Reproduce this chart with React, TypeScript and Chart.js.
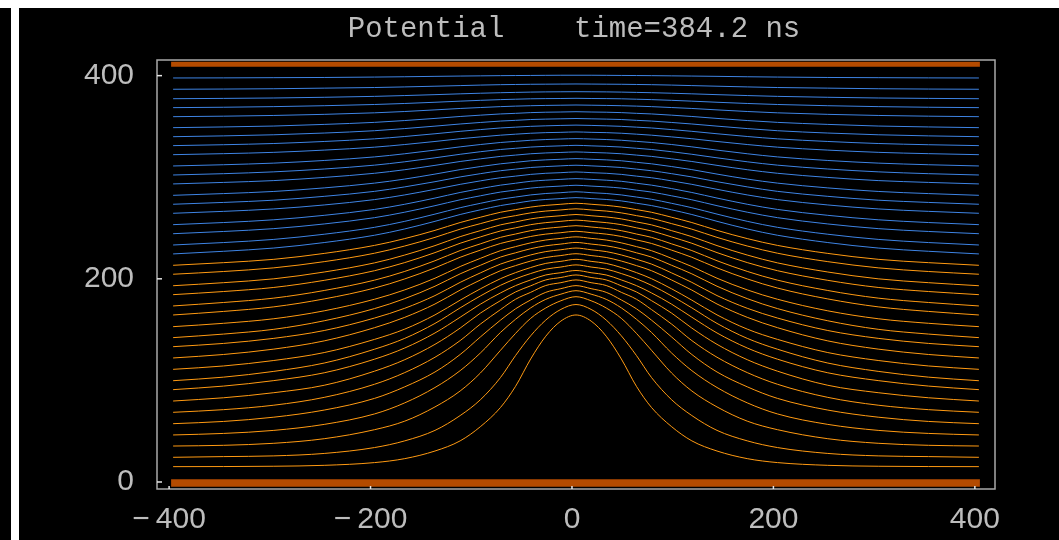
import React, { useEffect, useRef } from "react";
import { Chart, registerables } from "chart.js";

Chart.register(...registerables);

// sample positions along x (same for every contour)
const xs = [-396, -346, -296, -246, -196, -166, -136, -111, -91, -71, -56, -41, -26, -11, 4, 19, 34, 49, 64, 79, 99, 119, 144, 174, 204, 254, 304, 354, 404];

// upper (blue) contour lines, top to bottom
const blueLines: number[][] = [
  [397.7, 397.8, 398.0, 398.2, 398.6, 398.9, 399.3, 399.6, 399.8, 400.0, 400.1, 400.2, 400.3, 400.4, 400.4, 400.4, 400.3, 400.2, 400.1, 400.0, 399.8, 399.6, 399.3, 398.9, 398.6, 398.2, 398.0, 397.8, 397.7],
  [386.6, 386.8, 387.1, 387.7, 388.3, 388.9, 389.6, 390.2, 390.7, 391.1, 391.3, 391.5, 391.6, 391.7, 391.8, 391.7, 391.6, 391.5, 391.3, 391.1, 390.7, 390.2, 389.6, 388.9, 388.3, 387.7, 387.1, 386.8, 386.6],
  [377.3, 377.6, 378.0, 378.7, 379.6, 380.4, 381.3, 382.1, 382.7, 383.2, 383.5, 383.8, 384.0, 384.1, 384.2, 384.1, 384.0, 383.8, 383.5, 383.2, 382.7, 382.1, 381.3, 380.4, 379.6, 378.7, 378.0, 377.6, 377.3],
  [368.5, 368.9, 369.5, 370.4, 371.6, 372.6, 373.8, 374.9, 375.7, 376.4, 376.8, 377.2, 377.4, 377.5, 377.7, 377.5, 377.4, 377.2, 376.8, 376.4, 375.7, 374.9, 373.8, 372.6, 371.6, 370.4, 369.5, 368.9, 368.5],
  [359.6, 360.1, 360.8, 361.9, 363.4, 364.7, 366.3, 367.7, 368.6, 369.5, 370.0, 370.4, 370.7, 370.9, 371.1, 370.9, 370.7, 370.4, 370.0, 369.5, 368.6, 367.7, 366.3, 364.7, 363.4, 361.9, 360.8, 360.1, 359.6],
  [348.8, 349.5, 350.4, 352.0, 354.0, 355.8, 357.9, 359.8, 361.1, 362.3, 362.9, 363.6, 364.0, 364.2, 364.5, 364.2, 364.0, 363.6, 362.9, 362.3, 361.1, 359.8, 357.9, 355.8, 354.0, 352.0, 350.4, 349.5, 348.8],
  [339.9, 340.7, 341.8, 343.5, 345.8, 347.9, 350.3, 352.4, 353.9, 355.3, 356.0, 356.8, 357.2, 357.5, 357.8, 357.5, 357.2, 356.8, 356.0, 355.3, 353.9, 352.4, 350.3, 347.9, 345.8, 343.5, 341.8, 340.7, 339.9],
  [331.1, 332.0, 333.2, 335.2, 337.8, 340.1, 342.8, 345.2, 346.9, 348.5, 349.3, 350.1, 350.6, 351.0, 351.3, 351.0, 350.6, 350.1, 349.3, 348.5, 346.9, 345.2, 342.8, 340.1, 337.8, 335.2, 333.2, 332.0, 331.1],
  [322.2, 323.2, 324.5, 326.7, 329.6, 332.2, 335.2, 337.9, 339.7, 341.4, 342.4, 343.3, 343.9, 344.2, 344.6, 344.2, 343.9, 343.3, 342.4, 341.4, 339.7, 337.9, 335.2, 332.2, 329.6, 326.7, 324.5, 323.2, 322.2],
  [311.1, 312.3, 313.9, 316.5, 320.0, 323.1, 326.7, 329.9, 332.2, 334.2, 335.3, 336.4, 337.1, 337.6, 338.0, 337.6, 337.1, 336.4, 335.3, 334.2, 332.2, 329.9, 326.7, 323.1, 320.0, 316.5, 313.9, 312.3, 311.1],
  [302.2, 303.5, 305.3, 308.1, 311.9, 315.2, 319.1, 322.6, 325.1, 327.3, 328.5, 329.7, 330.4, 330.9, 331.4, 330.9, 330.4, 329.7, 328.5, 327.3, 325.1, 322.6, 319.1, 315.2, 311.9, 308.1, 305.3, 303.5, 302.2],
  [293.4, 294.9, 296.7, 299.8, 303.9, 307.4, 311.7, 315.5, 318.1, 320.5, 321.8, 323.1, 323.9, 324.4, 324.9, 324.4, 323.9, 323.1, 321.8, 320.5, 318.1, 315.5, 311.7, 307.4, 303.9, 299.8, 296.7, 294.9, 293.4],
  [282.2, 283.9, 286.0, 289.5, 294.2, 298.2, 303.1, 307.5, 310.5, 313.2, 314.7, 316.2, 317.1, 317.7, 318.3, 317.7, 317.1, 316.2, 314.7, 313.2, 310.5, 307.5, 303.1, 298.2, 294.2, 289.5, 286.0, 283.9, 282.2],
  [273.4, 275.2, 277.4, 281.2, 286.1, 290.5, 295.6, 300.3, 303.5, 306.4, 308.0, 309.6, 310.5, 311.2, 311.8, 311.2, 310.5, 309.6, 308.0, 306.4, 303.5, 300.3, 295.6, 290.5, 286.1, 281.2, 277.4, 275.2, 273.4],
  [264.5, 266.4, 268.8, 272.7, 278.0, 282.6, 288.1, 293.0, 296.4, 299.5, 301.1, 302.8, 303.9, 304.5, 305.2, 304.5, 303.9, 302.8, 301.1, 299.5, 296.4, 293.0, 288.1, 282.6, 278.0, 272.7, 268.8, 266.4, 264.5],
  [253.3, 255.4, 258.1, 262.5, 268.3, 273.4, 279.5, 285.0, 288.8, 292.2, 294.1, 296.0, 297.1, 297.9, 298.6, 297.9, 297.1, 296.0, 294.1, 292.2, 288.8, 285.0, 279.5, 273.4, 268.3, 262.5, 258.1, 255.4, 253.3],
  [244.4, 246.6, 249.4, 254.0, 260.2, 265.6, 272.0, 277.8, 281.7, 285.4, 287.3, 289.3, 290.5, 291.3, 292.1, 291.3, 290.5, 289.3, 287.3, 285.4, 281.7, 277.8, 272.0, 265.6, 260.2, 254.0, 249.4, 246.6, 244.4],
  [233.3, 235.7, 238.8, 243.9, 250.7, 256.6, 263.7, 270.0, 274.3, 278.3, 280.5, 282.6, 284.0, 284.8, 285.7, 284.8, 284.0, 282.6, 280.5, 278.3, 274.3, 270.0, 263.7, 256.6, 250.7, 243.9, 238.8, 235.7, 233.3],
  [224.5, 227.1, 230.3, 235.7, 242.9, 249.1, 256.6, 263.3, 267.9, 272.1, 274.4, 276.7, 278.1, 279.0, 279.9, 279.0, 278.1, 276.7, 274.4, 272.1, 267.9, 263.3, 256.6, 249.1, 242.9, 235.7, 230.3, 227.1, 224.5],
];

// lower (orange) contour lines, top to bottom
const orangeLines: number[][] = [
  [213.3, 215.9, 219.2, 225.0, 232.9, 239.6, 247.7, 255.4, 260.6, 265.5, 268.1, 270.6, 272.3, 273.4, 274.4, 273.4, 272.3, 270.6, 268.1, 265.5, 260.6, 255.4, 247.7, 239.6, 232.9, 225.0, 219.2, 215.9, 213.3],
  [204.5, 207.2, 210.8, 216.9, 225.2, 232.3, 240.8, 248.9, 254.3, 259.5, 262.2, 264.9, 266.7, 267.8, 268.9, 267.8, 266.7, 264.9, 262.2, 259.5, 254.3, 248.9, 240.8, 232.3, 225.2, 216.9, 210.8, 207.2, 204.5],
  [193.2, 196.2, 200.0, 206.7, 215.7, 223.4, 232.7, 241.5, 247.4, 253.1, 256.0, 259.0, 260.9, 262.1, 263.3, 262.1, 260.9, 259.0, 256.0, 253.1, 247.4, 241.5, 232.7, 223.4, 215.7, 206.7, 200.0, 196.2, 193.2],
  [184.4, 187.5, 191.5, 198.5, 208.0, 216.0, 225.8, 235.0, 241.2, 247.1, 250.2, 253.3, 255.3, 256.6, 257.8, 256.6, 255.3, 253.3, 250.2, 247.1, 241.2, 235.0, 225.8, 216.0, 208.0, 198.5, 191.5, 187.5, 184.4],
  [173.3, 176.7, 181.0, 188.5, 198.7, 207.3, 217.8, 227.8, 234.4, 240.8, 244.1, 247.4, 249.6, 251.0, 252.3, 251.0, 249.6, 247.4, 244.1, 240.8, 234.4, 227.8, 217.8, 207.3, 198.7, 188.5, 181.0, 176.7, 173.3],
  [164.4, 167.9, 172.4, 180.2, 190.9, 199.9, 210.8, 221.2, 228.2, 234.8, 238.3, 241.7, 244.0, 245.4, 246.8, 245.4, 244.0, 241.7, 238.3, 234.8, 228.2, 221.2, 210.8, 199.9, 190.9, 180.2, 172.4, 167.9, 164.4],
  [152.9, 156.2, 160.7, 168.5, 179.9, 189.1, 200.6, 212.1, 220.1, 227.7, 231.7, 235.4, 238.2, 239.8, 241.3, 239.8, 238.2, 235.4, 231.7, 227.7, 220.1, 212.1, 200.6, 189.1, 179.9, 168.5, 160.7, 156.2, 152.9],
  [142.1, 145.6, 150.3, 158.7, 170.7, 180.5, 192.7, 204.9, 213.3, 221.4, 225.6, 229.6, 232.5, 234.2, 235.8, 234.2, 232.5, 229.6, 225.6, 221.4, 213.3, 204.9, 192.7, 180.5, 170.7, 158.7, 150.3, 145.6, 142.1],
  [133.2, 136.4, 141.4, 149.1, 161.4, 171.0, 183.5, 196.5, 205.8, 214.5, 219.2, 223.5, 226.8, 228.6, 230.3, 228.6, 226.8, 223.5, 219.2, 214.5, 205.8, 196.5, 183.5, 171.0, 161.4, 149.1, 141.4, 136.4, 133.2],
  [122.1, 125.5, 130.8, 138.9, 151.9, 162.1, 175.2, 188.9, 198.8, 208.0, 213.0, 217.5, 221.0, 222.9, 224.7, 222.9, 221.0, 217.5, 213.0, 208.0, 198.8, 188.9, 175.2, 162.1, 151.9, 138.9, 130.8, 125.5, 122.1],
  [110.9, 114.2, 119.6, 127.4, 140.4, 150.5, 164.5, 179.0, 190.1, 200.1, 206.1, 211.1, 215.2, 217.2, 219.2, 217.2, 215.2, 211.1, 206.1, 200.1, 190.1, 179.0, 164.5, 150.5, 140.4, 127.4, 119.6, 114.2, 110.9],
  [99.7, 103.2, 108.9, 117.1, 130.7, 141.4, 156.1, 171.4, 183.1, 193.6, 200.0, 205.2, 209.5, 211.6, 213.7, 211.6, 209.5, 205.2, 200.0, 193.6, 183.1, 171.4, 156.1, 141.4, 130.7, 117.1, 108.9, 103.2, 99.7],
  [90.9, 94.4, 99.8, 107.5, 120.9, 131.9, 146.7, 162.2, 175.0, 186.1, 193.3, 198.9, 203.8, 206.0, 208.2, 206.0, 203.8, 198.9, 193.3, 186.1, 175.0, 162.2, 146.7, 131.9, 120.9, 107.5, 99.8, 94.4, 90.9],
  [79.7, 82.9, 87.9, 95.2, 109.1, 120.4, 135.5, 151.5, 166.2, 178.5, 187.1, 193.1, 198.9, 201.3, 203.8, 201.3, 198.9, 193.1, 187.1, 178.5, 166.2, 151.5, 135.5, 120.4, 109.1, 95.2, 87.9, 82.9, 79.7],
  [68.6, 71.2, 75.6, 83.3, 96.2, 107.7, 122.8, 139.2, 155.4, 169.7, 179.9, 186.7, 193.4, 196.2, 198.9, 196.2, 193.4, 186.7, 179.9, 169.7, 155.4, 139.2, 122.8, 107.7, 96.2, 83.3, 75.6, 71.2, 68.6],
  [57.4, 59.6, 63.8, 70.8, 82.3, 93.7, 108.3, 125.5, 142.7, 159.3, 170.5, 179.2, 186.7, 190.3, 193.3, 190.3, 186.7, 179.2, 170.5, 159.3, 142.7, 125.5, 108.3, 93.7, 82.3, 70.8, 63.8, 59.6, 57.4],
  [46.3, 47.8, 50.8, 56.7, 67.0, 77.9, 93.0, 109.6, 126.9, 147.2, 160.2, 171.4, 179.8, 184.9, 188.3, 184.9, 179.8, 171.4, 160.2, 147.2, 126.9, 109.6, 93.0, 77.9, 67.0, 56.7, 50.8, 47.8, 46.3],
  [35.4, 36.1, 38.1, 42.6, 51.5, 59.9, 73.9, 89.6, 107.2, 129.6, 146.3, 161.1, 171.3, 178.4, 182.4, 178.4, 171.3, 161.1, 146.3, 129.6, 107.2, 89.6, 73.9, 59.9, 51.5, 42.6, 38.1, 36.1, 35.4],
  [24.3, 25.0, 25.7, 28.1, 33.9, 40.5, 50.8, 65.4, 80.9, 102.8, 124.5, 143.9, 159.4, 169.9, 174.7, 169.9, 159.4, 143.9, 124.5, 102.8, 80.9, 65.4, 50.8, 40.5, 33.9, 28.1, 25.7, 25.0, 24.3],
  [15.1, 15.2, 15.5, 16.4, 19.1, 23.0, 30.5, 40.5, 54.4, 73.3, 94.2, 121.1, 143.5, 158.4, 164.4, 158.4, 143.5, 121.1, 94.2, 73.3, 54.4, 40.5, 30.5, 23.0, 19.1, 16.4, 15.5, 15.2, 15.1],
];

// electrodes (thick bands)
const electrodeX = [-398, 405];
const bottomElectrodeY = [-1, -1];
const topElectrodeY = [411.3, 411.3];

const xTickValues = [-400, -200, 0, 200, 400];
const xTickLabels = ["\u2212\u2009400", "\u2212\u2009200", "0", "200", "400"];
const yTickValues = [0, 200, 400];
const yTickLabels = ["0", "200", "400"];
const titleText = "Potential    time=384.2 ns";

const BLUE = "rgb(62,132,228)";
const ORANGE = "rgb(255,154,18)";
const ELECTRODE = "#b44b00";
const TEXT = "#bdbdbd";

const pagePlugin = {
  id: "pageDecor",
  beforeDraw(chart: any) {
    const ctx = chart.ctx;
    const w = chart.width;
    const h = chart.height;
    ctx.save();
    ctx.fillStyle = "#ffffff";
    ctx.fillRect(0, 0, w, h);
    ctx.fillStyle = "#000000";
    ctx.fillRect(0, 8, w, h - 8);
    ctx.fillStyle = "#ffffff";
    ctx.fillRect(11, 8, 8, h - 8);
    ctx.restore();
  },
  afterDraw(chart: any) {
    const ctx = chart.ctx;
    const { left, right, top, bottom } = chart.chartArea;
    const xs_ = chart.scales.x;
    const ys_ = chart.scales.y;
    ctx.save();
    // frame
    ctx.strokeStyle = "#a9a9a9";
    ctx.lineWidth = 1.5;
    ctx.strokeRect(left, top, right - left, bottom - top);
    // inward ticks
    ctx.strokeStyle = "#e6e6e6";
    ctx.lineWidth = 1.5;
    yTickValues.forEach((v) => {
      const py = ys_.getPixelForValue(v);
      ctx.beginPath();
      ctx.moveTo(left, py);
      ctx.lineTo(left + 5, py);
      ctx.stroke();
    });
    xTickValues.forEach((v) => {
      const px = xs_.getPixelForValue(v);
      ctx.beginPath();
      ctx.moveTo(px, bottom);
      ctx.lineTo(px, bottom - 3);
      ctx.stroke();
    });
    // title
    ctx.fillStyle = TEXT;
    ctx.font = '29px "Liberation Mono", "DejaVu Sans Mono", monospace';
    ctx.textAlign = "center";
    ctx.textBaseline = "alphabetic";
    ctx.fillText(titleText, 574, 37);
    ctx.restore();
  },
};

export default function App() {
  const canvasRef = useRef<HTMLCanvasElement | null>(null);

  useEffect(() => {
    const canvas = canvasRef.current;
    if (!canvas) return;

    const lineDataset = (ys: number[], color: string) => ({
      data: xs.map((x, i) => ({ x, y: ys[i] })),
      borderColor: color,
      backgroundColor: color,
      borderWidth: 1,
      pointRadius: 0,
      fill: false,
      cubicInterpolationMode: "monotone" as const,
    });

    const bandDataset = (ys: number[], width: number) => ({
      data: electrodeX.map((x, i) => ({ x, y: ys[i] })),
      borderColor: ELECTRODE,
      backgroundColor: ELECTRODE,
      borderWidth: width,
      borderCapStyle: "butt" as const,
      pointRadius: 0,
      fill: false,
    });

    const datasets: any[] = [
      ...blueLines.map((l) => lineDataset(l, BLUE)),
      ...orangeLines.map((l) => lineDataset(l, ORANGE)),
      bandDataset(bottomElectrodeY, 7.5),
      bandDataset(topElectrodeY, 5),
    ];

    const chart = new Chart(canvas, {
      type: "line",
      data: { datasets },
      plugins: [pagePlugin],
      options: {
        animation: false,
        responsive: false,
        devicePixelRatio: 1,
        layout: { padding: { top: 60, right: 64, bottom: 0, left: 0 } },
        plugins: {
          legend: { display: false },
          tooltip: { enabled: false },
          title: { display: false },
        },
        scales: {
          x: {
            type: "linear",
            min: -412,
            max: 420,
            afterFit: (scale: any) => {
              scale.height = 51;
            },
            afterBuildTicks: (scale: any) => {
              scale.ticks = xTickValues.map((v) => ({ value: v }));
            },
            grid: { display: false, drawTicks: false },
            border: { display: false },
            ticks: {
              color: TEXT,
              font: { family: '"Liberation Sans", Arial, sans-serif', size: 30 },
              padding: 13,
              maxRotation: 0,
              autoSkip: false,
              callback: (_v: any, i: number) => xTickLabels[i],
            },
          },
          y: {
            type: "linear",
            min: -6.9,
            max: 415.4,
            afterFit: (scale: any) => {
              scale.width = 157;
            },
            afterBuildTicks: (scale: any) => {
              scale.ticks = yTickValues.map((v) => ({ value: v }));
            },
            grid: { display: false, drawTicks: false },
            border: { display: false },
            ticks: {
              color: TEXT,
              font: { family: '"Liberation Sans", Arial, sans-serif', size: 30 },
              padding: 23,
              autoSkip: false,
              callback: (_v: any, i: number) => yTickLabels[i],
            },
          },
        },
      },
    });

    return () => chart.destroy();
  }, []);

  return (
    <div style={{ position: "fixed", left: 0, top: 0, width: 1059, height: 540, background: "#fff" }}>
      <canvas ref={canvasRef} width={1059} height={540} style={{ width: 1059, height: 540, display: "block" }} />
    </div>
  );
}
